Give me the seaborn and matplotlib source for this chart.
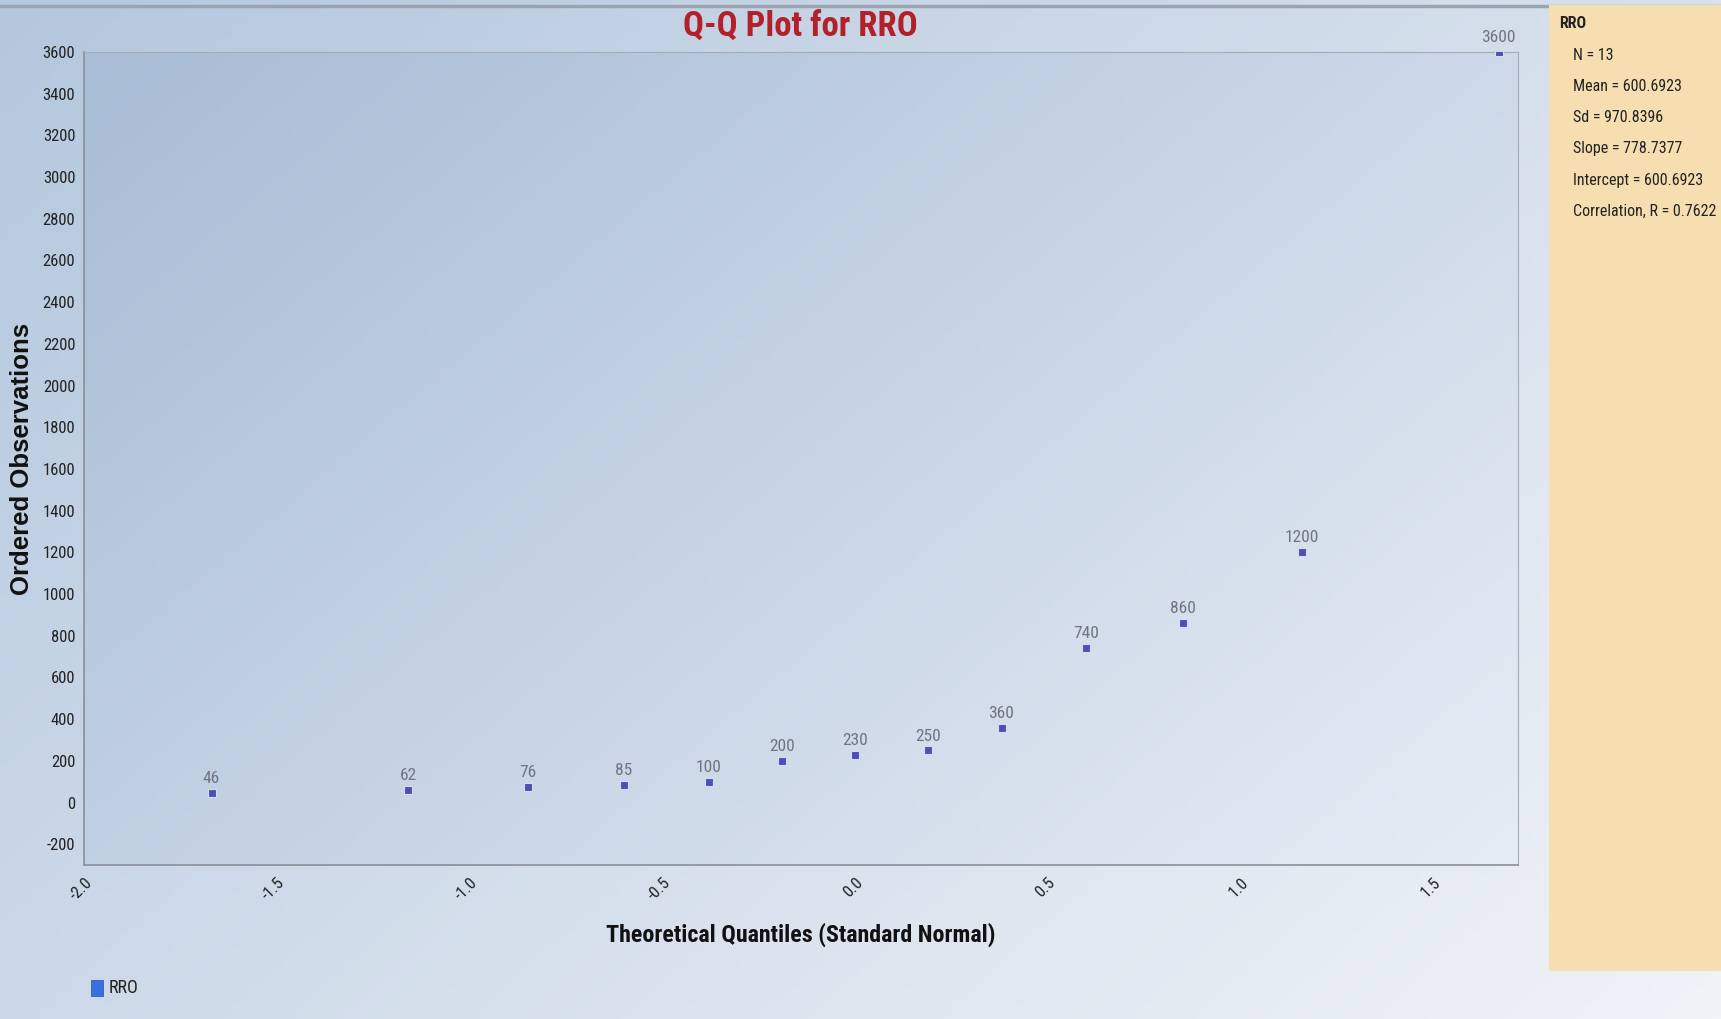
import numpy as np
import pandas as pd
import matplotlib
matplotlib.use('Agg')
import matplotlib.pyplot as plt
import seaborn as sns
from matplotlib.patches import Rectangle
from matplotlib import font_manager

# data
theo_q = [-1.67, -1.16, -0.85, -0.60, -0.38, -0.19, 0.0, 0.19, 0.38, 0.60, 0.85, 1.16, 1.67]
obs = [46, 62, 76, 85, 100, 200, 230, 250, 360, 740, 860, 1200, 3600]
y_ticks = list(range(-200, 3601, 200))
x_ticks = [-2.0, -1.5, -1.0, -0.5, 0.0, 0.5, 1.0, 1.5]
stats_lines = ['N = 13', 'Mean = 600.6923', 'Sd = 970.8396', 'Slope = 778.7377',
               'Intercept = 600.6923', 'Correlation, R = 0.7622']

df = pd.DataFrame({'q': theo_q, 'obs': obs, 'series': 'RRO'})

sns.set_style('white')
installed = {f.name for f in font_manager.fontManager.ttflist}
narrow_pick = next((n for n in ['Liberation Sans Narrow', 'Roboto Condensed', 'Arial Narrow',
                                'Liberation Sans'] if n in installed), 'DejaVu Sans')
is_narrow = narrow_pick != 'Liberation Sans'
plt.rcParams['font.family'] = [narrow_pick, 'DejaVu Sans']
plt.rcParams['axes.unicode_minus'] = False
k = 1.0 if is_narrow else 0.86  # shrink a little when no condensed face exists

fig = plt.figure(figsize=(17.21, 10.19), dpi=100)


def gradient(c1, c2, n=200):
    c1 = np.array(matplotlib.colors.to_rgb(c1))
    c2 = np.array(matplotlib.colors.to_rgb(c2))
    xx, yy = np.meshgrid(np.linspace(0, 1, n), np.linspace(0, 1, n))
    t = (xx * 0.6 + yy * 0.4)[..., None]
    return c1 * (1 - t) + c2 * t


# figure background
bg = fig.add_axes([0, 0, 1, 1], zorder=-5)
bg.imshow(gradient('#b4c7dd', '#f0f3f8'), aspect='auto', extent=[0, 1, 0, 1], origin='upper')
bg.set_axis_off()
fig.add_artist(Rectangle((0.0, 0.993), 1, 0.002, transform=fig.transFigure, color='#9aa4b0', zorder=-4))

# stats panel
fig.add_artist(Rectangle((0.900, 0.047), 0.1, 0.948, transform=fig.transFigure,
                         facecolor='#f7deb0', edgecolor='none', zorder=-3))
fig.text(0.906, 1 - 23 / 1019, 'RRO', fontsize=11.5 * k, fontweight='bold', va='center', color='#222222')
for i, s in enumerate(stats_lines):
    fig.text(0.914, 1 - (55 + 31.3 * i) / 1019, s, fontsize=11.5 * k, va='center', color='#222222')

ax = fig.add_axes([0.049, 0.151, 0.833, 0.798])
ax.imshow(gradient('#a8bcd5', '#e6ecf5'), aspect='auto', extent=[0, 1, 0, 1],
          transform=ax.transAxes, origin='upper', zorder=0)

sns.scatterplot(data=df, x='q', y='obs', marker='s', s=30, color='#4b50b8',
                edgecolor='#d8dcf0', linewidth=0.8, ax=ax, zorder=3, legend=False)
for qx, ov in zip(theo_q, obs):
    ax.annotate(str(ov), (qx, ov), xytext=(0, 5), textcoords='offset points',
                ha='center', va='bottom', fontsize=12.5 * k, color='#707480', zorder=4)

ax.set_xlim(-2.0, 1.72)
ax.set_ylim(-300, 3600)
ax.set_xticks(x_ticks)
ax.set_xticklabels([f'{v:.1f}' for v in x_ticks], rotation=45, ha='right', rotation_mode='anchor')
ax.set_yticks(y_ticks)
ax.tick_params(axis='both', labelsize=12 * k, colors='#222222', length=3, color='#999999')
ax.tick_params(axis='x', pad=4)
for side in ['left', 'bottom']:
    ax.spines[side].set_color('#8a8f98')
    ax.spines[side].set_linewidth(1.2)
for side in ['top', 'right']:
    ax.spines[side].set_color('#a4abb8')
    ax.spines[side].set_linewidth(0.8)

ax.set_xlabel('Theoretical Quantiles (Standard Normal)', fontsize=17.3 * k, fontweight='bold',
              color='#111111', labelpad=14)
ax.set_ylabel('Ordered Observations', fontsize=18.5, fontweight='bold', color='#111111',
              family=['Liberation Sans', 'DejaVu Sans'], labelpad=6)

fig.text(800 / 1721, 1 - 26 / 1019, 'Q-Q Plot for RRO', fontsize=25 * k, fontweight='bold',
         color='#b3202a', ha='center', va='center')

# legend
fig.add_artist(Rectangle((91 / 1721, 1 - 996 / 1019), 12 / 1721, 16 / 1019, transform=fig.transFigure,
                         facecolor='#3a6fe0', edgecolor='#2a4fa0', linewidth=0.5))
fig.text(109 / 1721, 1 - 988 / 1019, 'RRO', fontsize=13 * k, va='center', color='#222222')

fig.savefig('out.png', dpi=100)
